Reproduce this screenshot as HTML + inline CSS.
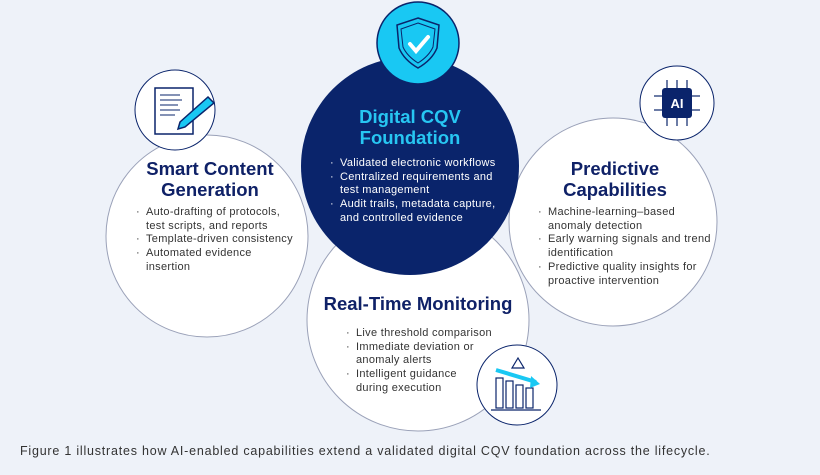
<!DOCTYPE html>
<html><head><meta charset="utf-8"><style>
body{margin:0;width:820px;height:475px;background:#eef2f9;font-family:"Liberation Sans",sans-serif;overflow:hidden;position:relative}
.t{position:absolute;color:#0f2167;font-size:11px;letter-spacing:0.3px;line-height:13.7px;white-space:nowrap}
.h{position:absolute;text-align:center;font-weight:bold;font-size:18.5px;line-height:21px;color:#0f2167;white-space:nowrap}
ul{margin:0;padding:0;list-style:none}
li{padding-left:10px;text-indent:-10px}
li:before{content:"·";display:inline-block;width:10px;text-indent:0}
</style></head><body>
<svg width="820" height="475" style="position:absolute;left:0;top:0">
<circle cx="207" cy="236" r="101" fill="#fff" stroke="#9aa1b8" stroke-width="1"/>
<circle cx="613" cy="222" r="104" fill="#fff" stroke="#9aa1b8" stroke-width="1"/>
<circle cx="418" cy="320" r="111" fill="#fff" stroke="#9aa1b8" stroke-width="1"/>
<circle cx="410" cy="166" r="109" fill="#0a246b"/>
<circle cx="418" cy="43" r="41" fill="#19c8f3" stroke="#0a246b" stroke-width="1.5"/>
<path d="M418 18 L439 25 L437 48 Q432 60 418 68 Q404 60 399 48 L397 25 Z" fill="none" stroke="#0a246b" stroke-width="1.5"/>
<path d="M418 23 L435 29 L433 47 Q429 56 418 63 Q407 56 403 47 L401 29 Z" fill="none" stroke="#0a246b" stroke-width="1"/>
<path d="M410 44 L416 51 L428 37" fill="none" stroke="#fff" stroke-width="4" stroke-linecap="round"/>
<circle cx="175" cy="110" r="40" fill="#fff" stroke="#0a246b" stroke-width="1"/>
<rect x="155" y="88" width="38" height="46" fill="#fff" stroke="#0a246b" stroke-width="1.5"/>
<g stroke="#0a246b" stroke-width="1"><line x1="160" y1="95" x2="180" y2="95"/><line x1="160" y1="100" x2="182" y2="100"/><line x1="160" y1="105" x2="178" y2="105"/><line x1="160" y1="110" x2="180" y2="110"/><line x1="160" y1="115" x2="175" y2="115"/></g>
<path d="M208 97 L214 103 L185 127 L178 129 L180 122 Z" fill="#19c8f3" stroke="#0a246b" stroke-width="1.5"/>
<circle cx="677" cy="103" r="37" fill="#fff" stroke="#0a246b" stroke-width="1"/>
<rect x="662" y="88" width="30" height="30" rx="3" fill="#0a246b"/>
<g stroke="#0a246b" stroke-width="1.2"><line x1="667" y1="80" x2="667" y2="88"/><line x1="677" y1="80" x2="677" y2="88"/><line x1="687" y1="80" x2="687" y2="88"/><line x1="667" y1="118" x2="667" y2="126"/><line x1="677" y1="118" x2="677" y2="126"/><line x1="687" y1="118" x2="687" y2="126"/><line x1="654" y1="96" x2="662" y2="96"/><line x1="654" y1="110" x2="662" y2="110"/><line x1="692" y1="96" x2="700" y2="96"/><line x1="692" y1="110" x2="700" y2="110"/></g>
<text x="677" y="108" fill="#fff" font-family="Liberation Sans" font-weight="bold" font-size="13" text-anchor="middle">AI</text>
<circle cx="517" cy="385" r="40" fill="#fff" stroke="#0a246b" stroke-width="1"/>
<g fill="none" stroke="#0a246b" stroke-width="1.2"><rect x="496" y="378" width="7" height="30"/><rect x="506" y="381" width="7" height="27"/><rect x="516" y="385" width="7" height="23"/><rect x="526" y="388" width="7" height="20"/><line x1="491" y1="410" x2="541" y2="410"/><path d="M518 358 L524 368 L512 368 Z"/></g>
<path d="M496 370 L536 382" stroke="#19c8f3" stroke-width="4"/><path d="M531 376 L540 384 L530 388 Z" fill="#19c8f3"/>
</svg>
<div class="h" style="left:330px;top:106px;width:160px;color:#27c6f2">Digital CQV<br>Foundation</div>
<div class="t" style="left:330px;top:157px;color:#fff"><ul><li>Validated electronic workflows</li><li>Centralized requirements and<br>test management</li><li>Audit trails, metadata capture,<br>and controlled evidence</li></ul></div>
<div class="h" style="left:130px;top:158px;width:160px">Smart Content<br>Generation</div>
<div class="t" style="left:136px;top:206px;color:#333"><ul><li>Auto-drafting of protocols,<br>test scripts, and reports</li><li>Template-driven consistency</li><li>Automated evidence<br>insertion</li></ul></div>
<div class="h" style="left:540px;top:158px;width:150px">Predictive<br>Capabilities</div>
<div class="t" style="left:538px;top:206px;color:#333"><ul><li>Machine-learning–based<br>anomaly detection</li><li>Early warning signals and trend<br>identification</li><li>Predictive quality insights for<br>proactive intervention</li></ul></div>
<div class="h" style="left:318px;top:293px;width:200px">Real-Time Monitoring</div>
<div class="t" style="left:346px;top:327px;color:#333"><ul><li>Live threshold comparison</li><li>Immediate deviation or<br>anomaly alerts</li><li>Intelligent guidance<br>during execution</li></ul></div>
<div style="position:absolute;left:20px;top:444px;font-size:12.5px;letter-spacing:0.78px;color:#333;white-space:nowrap">Figure 1 illustrates how AI-enabled capabilities extend a validated digital CQV foundation across the lifecycle.</div>
</body></html>
